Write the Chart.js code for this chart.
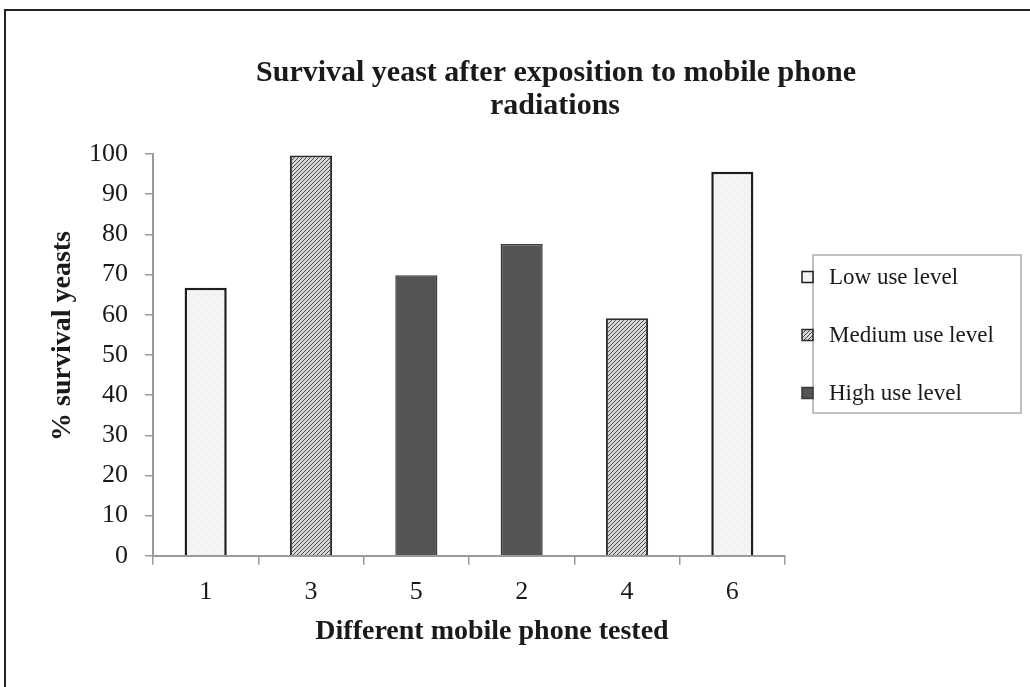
<!DOCTYPE html>
<html>
<head>
<meta charset="utf-8">
<script src="https://cdn.jsdelivr.net/npm/chart.js@4"></script>
<style>
  html, body { margin: 0; padding: 0; background: #fff; }
  #wrap { width: 1030px; height: 687px; }
</style>
</head>
<body>
<div id="wrap"><canvas id="grafica" width="1030" height="687"></canvas></div>
<script>
const phones = ["1", "3", "5", "2", "4", "6"];
const lowUse = [66.7, null, null, null, null, 95.6];
const mediumUse = [null, 99.6, null, null, 59.1, null];
const highUse = [null, null, 69.8, 77.6, null, null];
const yTicks = [0, 10, 20, 30, 40, 50, 60, 70, 80, 90, 100];

const serif = "'Liberation Serif', 'Times New Roman', serif";

// small canvas patterns to imitate the printed fills
function makePattern(size, draw) {
  const c = document.createElement("canvas");
  c.width = size; c.height = size;
  const g = c.getContext("2d");
  draw(g);
  return g.createPattern(c, "repeat");
}

const lowFill = makePattern(8, g => {
  g.fillStyle = "#f4f4f4";
  g.fillRect(0, 0, 8, 8);
  g.fillStyle = "#d4d4d4";
  g.fillRect(1, 2, 1, 1);
  g.fillRect(5, 6, 1, 1);
});

const mediumFill = makePattern(4, g => {
  g.fillStyle = "#d8d8d8";
  g.fillRect(0, 0, 4, 4);
  g.fillStyle = "#4a4a4a";
  for (let i = 0; i < 4; i++) g.fillRect(i, 3 - i, 1, 1);
});

const highFill = "#545454";

const decor = {
  id: "decor",
  beforeDraw(chart) {
    const ctx = chart.ctx;
    ctx.save();
    ctx.fillStyle = "#fff";
    ctx.fillRect(0, 0, chart.width, chart.height);
    ctx.strokeStyle = "#222";
    ctx.lineWidth = 2;
    ctx.beginPath();
    ctx.moveTo(5, chart.height);
    ctx.lineTo(5, 10);
    ctx.lineTo(chart.width, 10);
    ctx.stroke();
    ctx.restore();
  },
  afterDraw(chart) {
    const ctx = chart.ctx;
    ctx.save();
    ctx.fillStyle = "#1a1a1a";
    ctx.textAlign = "center";
    ctx.textBaseline = "middle";

    // chart title
    ctx.font = "bold 30px " + serif;
    ctx.fillText("Survival yeast after exposition to mobile phone", 556, 73);
    ctx.fillText("radiations", 555, 106);

    // axis titles
    ctx.font = "bold 28px " + serif;
    ctx.fillText("Different mobile phone tested", 492, 632);
    ctx.save();
    ctx.translate(63, 336);
    ctx.rotate(-Math.PI / 2);
    ctx.fillText("% survival yeasts", 0, 0);
    ctx.restore();

    // legend
    ctx.strokeStyle = "#aaa";
    ctx.lineWidth = 1.5;
    ctx.strokeRect(813, 255, 208, 158);
    ctx.textAlign = "left";
    ctx.font = "23px " + serif;
    chart.data.datasets.forEach((ds, i) => {
      const y = 277 + i * 58;
      ctx.fillStyle = ds.backgroundColor;
      ctx.fillRect(802, y - 5.5, 11, 11);
      ctx.strokeStyle = ds.borderColor;
      ctx.lineWidth = 1.5;
      ctx.strokeRect(802, y - 5.5, 11, 11);
      ctx.fillStyle = "#1a1a1a";
      ctx.fillText(ds.label, 829, y + 1);
    });
    ctx.restore();
  }
};

const ctx = document.getElementById("grafica").getContext("2d");
new Chart(ctx, {
  type: "bar",
  data: {
    labels: phones,
    datasets: [
      { label: "Low use level", data: lowUse, backgroundColor: lowFill, borderColor: "#1e1e1e", borderWidth: 2.5 },
      { label: "Medium use level", data: mediumUse, backgroundColor: mediumFill, borderColor: "#2e2e2e", borderWidth: 2 },
      { label: "High use level", data: highUse, backgroundColor: highFill, borderColor: "#3a3a3a", borderWidth: 1.5 }
    ]
  },
  options: {
    responsive: false,
    animation: false,
    skipNull: true,
    categoryPercentage: 1,
    barPercentage: 0.4,
    layout: { padding: { left: 72, right: 245, top: 154, bottom: 67 } },
    plugins: {
      legend: { display: false },
      title: { display: false },
      tooltip: { enabled: false }
    },
    scales: {
      x: {
        grid: { offset: true, drawOnChartArea: false, drawTicks: true, tickLength: 9, color: "#9a9a9a", lineWidth: 1.5 },
        border: { color: "#9a9a9a", width: 2 },
        ticks: { color: "#1a1a1a", font: { family: serif, size: 26 }, padding: 12 }
      },
      y: {
        min: 0,
        max: 100,
        afterBuildTicks: axis => { axis.ticks = yTicks.map(v => ({ value: v })); },
        grid: { drawOnChartArea: false, drawTicks: true, tickLength: 8, color: "#9a9a9a", lineWidth: 1.5 },
        border: { color: "#9a9a9a", width: 2 },
        ticks: { color: "#1a1a1a", font: { family: serif, size: 26 }, padding: 17 }
      }
    }
  },
  plugins: [decor]
});
</script>
</body>
</html>
